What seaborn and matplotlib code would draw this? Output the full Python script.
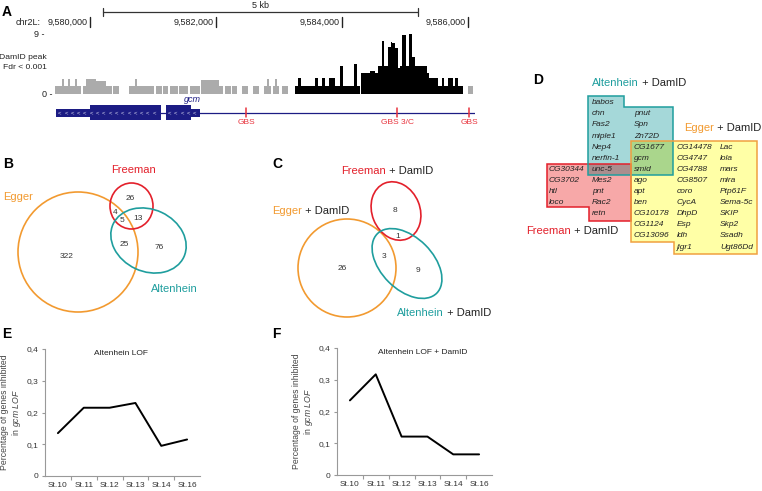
import numpy as np
import pandas as pd
import matplotlib
matplotlib.use("Agg")
import matplotlib.pyplot as plt
from matplotlib.patches import Ellipse, Polygon, Rectangle
import seaborn as sns

# ---------------- data ----------------
CHR_BASE = 9580000
coord_ticks = [9580000, 9582000, 9584000, 9586000]
coord_labels = ["9,580,000", "9,582,000", "9,584,000", "9,586,000"]
scale_bar = [9580206, 9585206]

# DamID signal, non-significant (grey) fragments: offsets from CHR_BASE (bp) and values
gray_start = [-556, -449, -413, -354, -317, -238, -202, -116, -63, 95, 254, 365,
              619, 714, 741, 1043, 1164, 1270, 1417, 1587, 1762, 2052,
              2143, 2259, 2417, 2592, 2767, 2805, 2846, 2910, 2937, 2973, 3043, 6005]
gray_end = [-449, -413, -354, -317, -238, -202, -143, -63, 95, 254, 349, 460,
            714, 741, 1016, 1138, 1243, 1392, 1560, 1746, 2052, 2116,
            2233, 2338, 2513, 2687, 2805, 2846, 2868, 2937, 2973, 3005, 3148, 6084]
gray_val = [1.15, 2.2, 1.15, 2.2, 1.15, 2.2, 1.15, 1.15, 2.2, 2.0, 1.15, 1.15,
            1.15, 2.2, 1.15, 1.15, 1.15, 1.15, 1.15, 1.15, 2.1, 1.15,
            1.15, 1.15, 1.15, 1.15, 1.15, 2.2, 1.15, 1.15, 2.2, 1.15, 1.15, 1.15]
# DamID peak fragments (Fdr < 0.001)
peak_start = [3254, 3306, 3349, 3571, 3624, 3687, 3730, 3798, 3889, 3968, 4011, 4190, 4233,
              4302, 4444, 4524, 4576, 4630, 4671, 4735, 4778, 4798, 4841, 4884, 4921, 4957,
              5011, 5063, 5106, 5159, 5344, 5381, 5529, 5583, 5624, 5687, 5767, 5794, 5846]
peak_end = [3306, 3349, 3571, 3624, 3687, 3730, 3798, 3889, 3968, 4011, 4190, 4233, 4286,
            4444, 4524, 4576, 4630, 4671, 4735, 4778, 4798, 4841, 4884, 4921, 4957, 5011,
            5063, 5106, 5159, 5344, 5381, 5529, 5583, 5624, 5687, 5767, 5794, 5846, 5925]
peak_val = [1.2, 2.45, 1.2, 2.45, 1.2, 2.45, 1.2, 2.45, 1.2, 4.2, 1.2, 4.5, 1.2,
            3.2, 3.4, 3.2, 4.2, 7.9, 4.2, 7.1, 7.8, 7.6, 6.9, 3.9, 4.2, 8.9,
            4.2, 9.0, 5.6, 4.2, 3.2, 2.4, 1.2, 2.4, 1.2, 2.4, 1.2, 2.4, 1.2]

# gcm gene model (offsets)
exon_start = [-540, 1202]
exon_end = [1127, 1746]
utr_start = [-540, 1598]
utr_end = [0, 1746]
gene_line = [-540, 6111]
gbs_pos = [2476, 4873, 6016]
gbs_labels = ["GBS", "GBS 3/C", "GBS"]

# Venn counts
venn_b = {"Egger": 322, "Freeman": 26, "Altenhein": 76, "E&F": 4, "E&F&A": 5,
          "F&A": 13, "E&A": 25}
venn_c = {"Egger": 26, "Freeman": 8, "Altenhein": 9, "F&A": 1, "E&A": 3}

# Panel D gene lists
altenhein_only = ["babos", "chn", "Fas2", "miple1", "Nep4", "nerfin-1", "pnut", "Spn", "Zn72D"]
altenhein_egger = ["CG1677", "gcm", "smid"]
freeman_altenhein = ["unc-5"]
freeman_only = ["CG30344", "CG3702", "htl", "loco", "Mes2", "pnt", "Rac2", "retn"]
egger_only = ["ago", "apt", "ben", "CG10178", "CG1124", "CG13096",
              "CG14478", "CG4747", "CG4788", "CG8507", "coro", "CycA", "DhpD", "Esp", "ldh", "jigr1",
              "Lac", "lola", "mars", "mira", "Ptp61F", "Sema-5c", "SKIP", "Skp2", "Ssadh", "Ugt86Dd"]

# Panels E, F
stages = ["St.10", "St.11", "St.12", "St.13", "St.14", "St.16"]
lof_e = [0.135, 0.215, 0.215, 0.230, 0.095, 0.115]
lof_f = [0.235, 0.317, 0.121, 0.121, 0.065, 0.065]

# ---------------- style ----------------
sns.set_theme(style="white")
plt.rcParams["font.family"] = ["Liberation Sans", "DejaVu Sans"]
plt.rcParams["mathtext.fontset"] = "custom"
plt.rcParams["mathtext.rm"] = "Liberation Sans"
plt.rcParams["mathtext.it"] = "Liberation Sans:italic"

ORANGE = "#F29A30"
RED = "#E3202B"
TEAL = "#1F9E9E"
NAVY = "#1C1C84"
GBSRED = "#E8323C"
TXT = "#222222"

W, H = 762, 491
fig = plt.figure(figsize=(W / 100, H / 100), dpi=100)
ov = fig.add_axes([0, 0, 1, 1])
ov.set_xlim(0, W)
ov.set_ylim(H, 0)
ov.axis("off")


def px_axes(l, t, r, b):
    return fig.add_axes([l / W, 1 - b / H, (r - l) / W, (b - t) / H])


def letter(x, y, s):
    ov.text(x, y, s, fontsize=10, fontweight="bold", ha="left", va="center", color="black")


def two_color(x, y, word, color, fs=8):
    t1 = ov.text(x, y, word, color=color, fontsize=fs, ha="left", va="bottom")
    ov.annotate(" + DamID", xy=(1, 0), xycoords=t1, ha="left", va="bottom",
                color=TXT, fontsize=fs)

# ---------------- panel A ----------------
XMIN = CHR_BASE - 556
XMAX = CHR_BASE + 6111
ax_a = px_axes(55, 34, 475, 94)
gs = np.array(gray_start) + CHR_BASE
ge = np.array(gray_end) + CHR_BASE
ps = np.array(peak_start) + CHR_BASE
pe = np.array(peak_end) + CHR_BASE
ax_a.bar(gs, gray_val, width=ge - gs, align="edge", color="#ABABAB", linewidth=0)
ax_a.bar(ps, peak_val, width=pe - ps, align="edge", color="black", linewidth=0)
ax_a.set_xlim(XMIN, XMAX)
ax_a.set_ylim(0, 9)
ax_a.axis("off")

ax_t = px_axes(55, 0, 475, 135)
ax_t.set_xlim(XMIN, XMAX)
ax_t.set_ylim(135, 0)
ax_t.axis("off")
# scale bar
ax_t.plot(scale_bar, [12, 12], color="#333333", lw=0.9, clip_on=False)
for sb in scale_bar:
    ax_t.plot([sb, sb], [8, 16], color="#333333", lw=0.9, clip_on=False)
ax_t.text(np.mean(scale_bar), 5.5, "5 kb", fontsize=6.5, ha="center", va="center", color=TXT)
# coordinates
for pos, lab in zip(coord_ticks, coord_labels):
    ax_t.plot([pos, pos], [17, 27], color="#222222", lw=1.0, clip_on=False)
    ax_t.text(pos - 35, 22.5, lab, fontsize=6.5, ha="right", va="center", color=TXT, clip_on=False)
# gene model
ax_t.plot(np.array(gene_line) + CHR_BASE, [112.5, 112.5], color=NAVY, lw=0.9, zorder=1)
for s, e in zip(exon_start, exon_end):
    ax_t.add_patch(Rectangle((s + CHR_BASE, 108.5), e - s, 8.5, color=NAVY, lw=0, zorder=2))
for s, e, us, ue in zip(exon_start, exon_end, utr_start, utr_end):
    cs, ce = (ue, e) if us == s else (s, us)
    ax_t.add_patch(Rectangle((cs + CHR_BASE, 105), ce - cs, 15, color=NAVY, lw=0, zorder=2))
    for xc in np.arange(s + 60, e - 20, 100):
        ax_t.text(xc + CHR_BASE, 112.6, "<", fontsize=4.3, color="#D8D8F0", ha="center",
                  va="center", zorder=3)
ax_t.text(1627 + CHR_BASE, 99, "gcm", fontsize=6.5, style="italic", color=NAVY,
          ha="center", va="center")
for g, lab in zip(gbs_pos, gbs_labels):
    ax_t.plot([g + CHR_BASE] * 2, [108, 117], color=GBSRED, lw=1.1, clip_on=False)
    ax_t.text(g + CHR_BASE, 122.5, lab, fontsize=6, color=GBSRED, ha="center", va="center",
              clip_on=False)

letter(2, 12, "A")
ov.text(16, 22.5, "chr2L:", fontsize=6.5, ha="left", va="center", color=TXT)
ov.text(45, 34, "9 -", fontsize=6.5, ha="right", va="center", color=TXT)
ov.text(52, 94, "0 -", fontsize=6.5, ha="right", va="center", color=TXT)
ov.text(47, 57, "DamID peak", fontsize=6.1, ha="right", va="center", color=TXT)
ov.text(47, 67.5, "Fdr < 0.001", fontsize=6.1, ha="right", va="center", color=TXT)

# ---------------- panel B ----------------
letter(3, 164, "B")
ov.add_patch(Ellipse((78, 252), 120, 120, fill=False, ec=ORANGE, lw=1.2))
ov.add_patch(Ellipse((131.5, 206), 43, 46, fill=False, ec=RED, lw=1.2))
ov.add_patch(Ellipse((148.5, 240.5), 78, 62, angle=25, fill=False, ec=TEAL, lw=1.2))
ov.text(133, 170, "Freeman", color=RED, fontsize=8, ha="center", va="center")
ov.text(3, 197, "Egger", color=ORANGE, fontsize=8, ha="left", va="center")
ov.text(174, 289, "Altenhein", color=TEAL, fontsize=8, ha="center", va="center")
nb = {"Egger": (67, 257), "Freeman": (130, 198), "Altenhein": (159, 247),
      "E&F": (115, 213), "E&F&A": (122, 221), "F&A": (138, 219), "E&A": (124, 244)}
for k, v in venn_b.items():
    ov.text(*nb[k], str(v), fontsize=6, ha="center", va="center", color="#333333")

# ---------------- panel C ----------------
letter(272, 164.5, "C")
ov.add_patch(Ellipse((347, 268), 98, 98, fill=False, ec=ORANGE, lw=1.2))
ov.add_patch(Ellipse((396, 211), 60, 48, angle=68, fill=False, ec=RED, lw=1.2))
ov.add_patch(Ellipse((407, 263.5), 84, 52, angle=45, fill=False, ec=TEAL, lw=1.2))
two_color(341, 176, "Freeman", RED)
two_color(272, 216, "Egger", ORANGE)
two_color(397, 318, "Altenhein", TEAL)
nc = {"Egger": (342, 268), "Freeman": (395, 210), "Altenhein": (418, 271),
      "F&A": (398, 236), "E&A": (384, 257)}
for k, v in venn_c.items():
    ov.text(*nc[k], str(v), fontsize=6, ha="center", va="center", color="#333333")

# ---------------- panel D ----------------
letter(533, 80, "D")
two_color(592, 88, "Altenhein", TEAL)
two_color(684, 133, "Egger", ORANGE)
two_color(526, 236, "Freeman", RED)

yellow_poly = [(631, 141), (757, 141), (757, 254), (674, 254), (674, 242), (631, 242)]
red_poly = [(547, 164), (631, 164), (631, 221), (589, 221), (589, 207), (547, 207)]
teal_poly = [(588, 96), (624, 96), (624, 107), (673, 107), (673, 175), (588, 175)]
ov.add_patch(Polygon(yellow_poly, closed=True, fc="#FFFFA6", ec="none"))
ov.add_patch(Polygon(red_poly, closed=True, fc="#F7A8A8", ec="none"))
ov.add_patch(Polygon(teal_poly, closed=True, fc="#A5D8D9", ec="none"))
ov.add_patch(Rectangle((631, 141), 42, 34, fc="#AAD68C", ec="none"))
ov.add_patch(Rectangle((588, 164), 43, 11, fc="#AA8E8E", ec="none"))
ov.add_patch(Polygon(red_poly, closed=True, fill=False, ec=RED, lw=1.1))
ov.add_patch(Polygon(teal_poly, closed=True, fill=False, ec=TEAL, lw=1.1))
ov.add_patch(Polygon(yellow_poly, closed=True, fill=False, ec="#F0A040", lw=1.1))

ROW0, DROW = 102.7, 11.1
colx = [549, 592, 634, 677, 720]
placements = []  # (col, row, name)
for i, g in enumerate(altenhein_only[:6]):
    placements.append((1, i, g))
for i, g in enumerate(altenhein_only[6:]):
    placements.append((2, 1 + i, g))
for i, g in enumerate(altenhein_egger):
    placements.append((2, 4 + i, g))
placements.append((1, 6, freeman_altenhein[0]))
for i, g in enumerate(freeman_only[:4]):
    placements.append((0, 6 + i, g))
for i, g in enumerate(freeman_only[4:]):
    placements.append((1, 7 + i, g))
for i, g in enumerate(egger_only[:6]):
    placements.append((2, 7 + i, g))
for i, g in enumerate(egger_only[6:16]):
    placements.append((3, 4 + i, g))
for i, g in enumerate(egger_only[16:]):
    placements.append((4, 4 + i, g))
for c, r, g in placements:
    ov.text(colx[c], ROW0 + DROW * r, g, fontsize=6, style="italic", color=TXT,
            ha="left", va="center")

# ---------------- panels E, F ----------------
yt = [0, 0.1, 0.2, 0.3, 0.4]
ytl = ["0", "0,1", "0,2", "0,3", "0,4"]


def line_panel(ax, vals, title, tx):
    df = pd.DataFrame({"stage": np.arange(len(stages)), "value": vals})
    sns.lineplot(data=df, x="stage", y="value", ax=ax, color="black", lw=1.4)
    ax.set_xlim(-0.5, len(stages) - 0.5)
    ax.set_ylim(0, 0.4)
    ax.set_xticks(np.arange(len(stages)))
    ax.set_xticklabels(stages)
    ax.set_xticks(np.arange(0.5, len(stages) - 0.5, 1), minor=True)
    ax.set_yticks(yt)
    ax.set_yticklabels(ytl)
    ax.tick_params(axis="x", which="major", length=0, pad=4, labelsize=6, labelcolor="#333333")
    ax.tick_params(axis="x", which="minor", length=3, width=0.8, color="#999999", bottom=True)
    ax.tick_params(axis="y", length=2, width=0.8, color="#999999", left=True, pad=3,
                   labelsize=6, labelcolor="#333333")
    for s in ["top", "right"]:
        ax.spines[s].set_visible(False)
    for s in ["left", "bottom"]:
        ax.spines[s].set_color("#999999")
        ax.spines[s].set_linewidth(0.8)
    ax.set_xlabel("")
    ax.set_ylabel("Percentage of genes inhibited\nin $\\it{gcm\\ LOF}$", fontsize=6.2,
                  color="#444444", linespacing=1.1)
    ax.yaxis.set_label_coords(-0.14, 0.5)
    ax.text(tx, 0.965, title, transform=ax.transAxes, fontsize=6, ha="center", va="center",
            color=TXT)


ax_e = px_axes(45, 349, 200, 476)
line_panel(ax_e, lof_e, "Altenhein LOF", 0.49)
ax_f = px_axes(337, 348, 492, 475)
line_panel(ax_f, lof_f, "Altenhein LOF + DamID", 0.55)
letter(2, 334, "E")
letter(272, 333.5, "F")

fig.savefig("out.png", dpi=100)
